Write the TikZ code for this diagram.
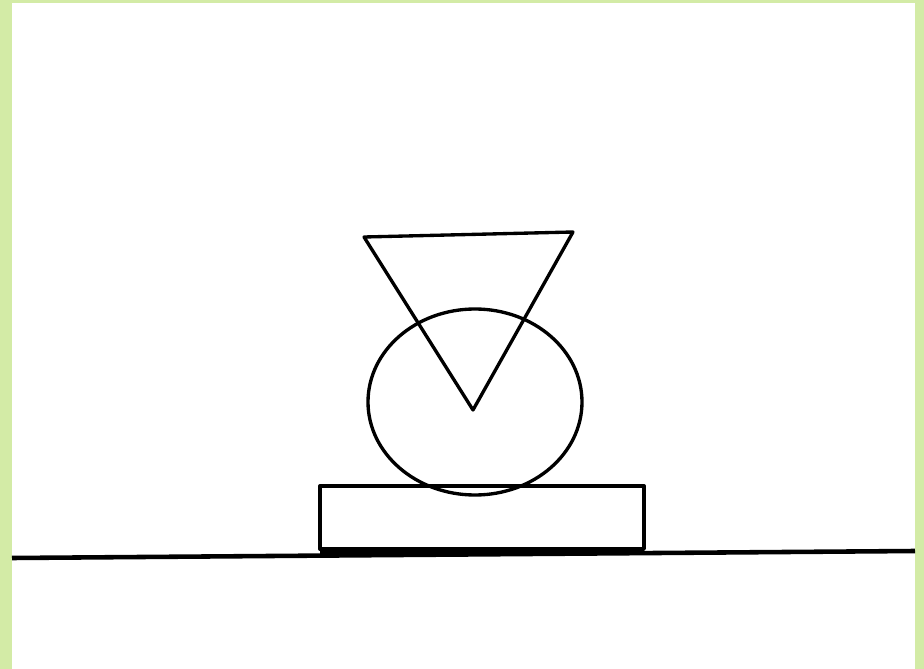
\documentclass[tikz,border=0pt]{standalone}
\usepackage{tikz}
\usepackage{xcolor}
\usetikzlibrary{positioning, calc}
\definecolor{framegreen}{HTML}{D3EBA6}
\definecolor{inkblack}{HTML}{000000}

\begin{document}
\begin{tikzpicture}[
    x=0.02cm, y=-0.02cm,
    outline/.style={draw=inkblack, line width=1.9pt, line join=round},
    groundline/.style={draw=inkblack, line width=2.6pt}
]

% Frame and canvas
\fill[framegreen] (0,0) rectangle (924,669);
\fill[white] (12,3) rectangle (915,669);
\useasboundingbox (0,0) rectangle (924,669);

% Ground
\coordinate (gleft) at (12,558);
\coordinate (gright) at (915,551);
\draw[groundline] (gleft) -- (gright);

% Base block
\draw[outline] (320,486) rectangle (644,549);
\draw[groundline, line width=3.4pt] (320,551) -- (644,550);

% Ball
\draw[outline] (475,402) ellipse [x radius=107, y radius=93];

% Cone
\coordinate (tl) at (364,237);
\coordinate (tr) at (573,232);
\coordinate (tip) at (473,410);
\draw[outline] (tl) -- (tr) -- (tip) -- cycle;

\end{tikzpicture}
\end{document}
